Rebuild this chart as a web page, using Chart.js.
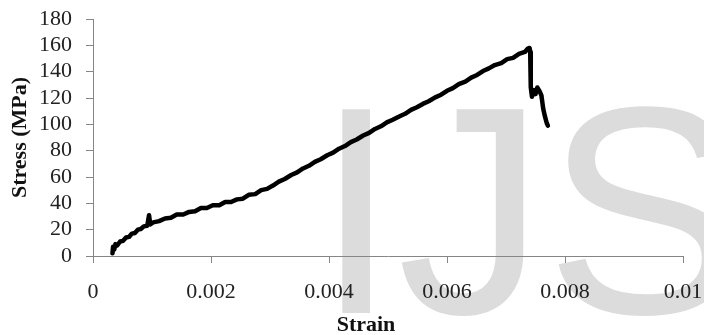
<!DOCTYPE html>
<html>
<head>
<meta charset="utf-8">
<script src="https://cdn.jsdelivr.net/npm/chart.js@4/dist/chart.umd.min.js"></script>
<style>
    html, body { margin: 0; padding: 0; background: #fff; overflow: hidden; }
    #wrap { position: relative; width: 704px; height: 335px; }
    #mark { position: absolute; left: 315px; top: 63px; font: 296px/1 "Liberation Sans", Arial, sans-serif; color: #dcdcdc; white-space: nowrap; }
    #chart { position: absolute; left: 0; top: 0; }
</style>
</head>
<body>
<div id="wrap">
    <div id="mark">IJSER</div>
    <canvas id="chart" width="704" height="335"></canvas>
</div>
<script>
// strain / stress
const strain = [
    0.00033, 0.00034, 0.00036, 0.00038, 0.00041, 0.00046, 0.00051, 0.00056, 0.00061, 0.00066,
    0.00071, 0.00076, 0.00081, 0.00086, 0.00092, 0.00095, 0.00097, 0.00102, 0.00112, 0.00122,
    0.00132, 0.00142, 0.00153, 0.00163, 0.00173, 0.00183, 0.00193, 0.00203, 0.00214, 0.00224,
    0.00234, 0.00244, 0.00254, 0.00264, 0.00275, 0.00285, 0.00295, 0.00305, 0.00315, 0.00325,
    0.00336, 0.00346, 0.00356, 0.00366, 0.00376, 0.00386, 0.00397, 0.00407, 0.00417, 0.00427,
    0.00437, 0.00447, 0.00458, 0.00468, 0.00478, 0.00488, 0.00498, 0.00508, 0.00519, 0.00529,
    0.00539, 0.00549, 0.00559, 0.00569, 0.00580, 0.00590, 0.00600, 0.00610, 0.00620, 0.00631,
    0.00641, 0.00651, 0.00661, 0.00671, 0.00681, 0.00692, 0.00702, 0.00712, 0.00722, 0.00732,
    0.00737, 0.00740, 0.00741, 0.00742, 0.00744, 0.00747, 0.00750, 0.00753, 0.00757, 0.00760,
    0.00763, 0.00766, 0.00769, 0.00771
];
const stress = [
    2, 7, 5, 9, 8, 11, 11.5, 14, 14.5, 17,
    17.5, 20, 20.5, 22.5, 23, 31, 24, 25.5, 26.5, 28.5,
    29, 31.5, 31.5, 33.5, 34, 36.5, 36.5, 38.5, 38.5, 41,
    41, 43, 43.5, 46.5, 47, 50, 51, 53.5, 56.5, 58.5,
    61.5, 63.5, 66.5, 68.5, 71.5, 73.5, 76.5, 78.5, 81.5, 83.5,
    86.5, 88.5, 91.5, 93.5, 96.5, 98.5, 101.5, 103.5, 106, 108,
    111, 113, 115.5, 117.5, 120.5, 122.5, 125.5, 127.5, 130.5, 132.5,
    135.5, 137.5, 140.5, 142.5, 145, 146.5, 149.5, 150.5, 153.5, 155,
    157.5, 158, 155, 128, 121, 126, 123, 128, 125, 122,
    112, 106, 101, 99
];
const xTicks = [0, 0.002, 0.004, 0.006, 0.008, 0.01];
const xTickLabels = ['0', '0.002', '0.004', '0.006', '0.008', '0.01'];
const yMin = 0;
const yMax = 180;
const yStep = 20;

const axisColor = '#868686';
const tickFont = { family: '"Liberation Serif", "Times New Roman", serif', size: 22 };
const titleFont = { family: '"Liberation Serif", "Times New Roman", serif', size: 22, weight: 'bold', lineHeight: 1 };

new Chart(document.getElementById('chart'), {
    type: 'scatter',
    data: {
        datasets: [
            {
                data: strain.map((x, i) => ({ x, y: stress[i] })),
                showLine: true,
                borderColor: '#000',
                borderWidth: 4.5,
                borderJoinStyle: 'round',
                borderCapStyle: 'round',
                pointRadius: 0,
                tension: 0,
            },
        ],
    },
    options: {
        responsive: false,
        animation: false,
        layout: { padding: { top: 19, right: 21, left: 0, bottom: 0 } },
        plugins: { legend: { display: false }, tooltip: { enabled: false } },
        scales: {
            x: {
                type: 'linear',
                min: xTicks[0],
                max: xTicks[xTicks.length - 1],
                afterBuildTicks: (scale) => {
                    scale.ticks = xTicks.map((value) => ({ value }));
                },
                ticks: {
                    color: '#222',
                    font: tickFont,
                    padding: 16,
                    maxRotation: 0,
                    autoSkip: false,
                    callback: (value, index) => xTickLabels[index],
                },
                grid: { drawOnChartArea: false, tickLength: 7, color: axisColor },
                border: { color: axisColor },
                // trailing em spaces nudge the centred title left, as in the source figure
                title: { display: true, text: 'Strain\u2003\u2003', color: '#111', font: titleFont, padding: { top: 0, bottom: -1 } },
                afterFit: (scale) => {
                    scale.height = 79;
                    scale.paddingLeft = 0;
                    scale.paddingRight = 0;
                },
            },
            y: {
                min: yMin,
                max: yMax,
                ticks: { stepSize: yStep, autoSkip: false, color: '#222', font: tickFont, padding: 14 },
                grid: { drawOnChartArea: false, tickLength: 7, color: axisColor },
                border: { color: axisColor },
                title: { display: true, text: 'Stress (MPa)', color: '#111', font: titleFont, padding: { top: 9, bottom: 0 } },
                afterFit: (scale) => {
                    scale.width = 93;
                    scale.paddingTop = 0;
                    scale.paddingBottom = 0;
                },
            },
        },
    },
});
</script>
</body>
</html>
